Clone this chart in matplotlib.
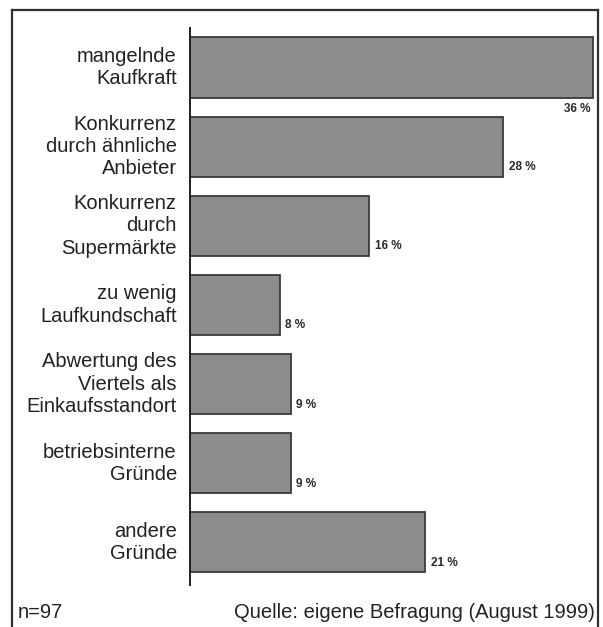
import matplotlib
matplotlib.use('Agg')
import matplotlib.pyplot as plt
from matplotlib.lines import Line2D

plt.rcParams['font.family'] = ['Liberation Sans', 'DejaVu Sans']

# Gründe für Geschäftsaufgaben (Mehrfachnennungen), n=97
gruende = ['mangelnde\nKaufkraft',
           'Konkurrenz\ndurch ähnliche\nAnbieter',
           'Konkurrenz\ndurch\nSupermärkte',
           'zu wenig\nLaufkundschaft',
           'Abwertung des\nViertels als\nEinkaufsstandort',
           'betriebsinterne\nGründe',
           'andere\nGründe']
anteile = [36, 28, 16, 8, 9, 9, 21]

W, H = 603, 627
fig = plt.figure(figsize=(W / 100, H / 100), dpi=100)

# Rahmen um die Grafik (unten abgeschnitten)
rahmen = dict(color='#303030', lw=1.6, transform=fig.transFigure)
fig.add_artist(Line2D([12 / W, 12 / W], [0, 1 - 10 / H], **rahmen))
fig.add_artist(Line2D([12 / W, 598 / W], [1 - 10 / H, 1 - 10 / H], **rahmen))
fig.add_artist(Line2D([598 / W, 598 / W], [0, 1 - 10 / H], **rahmen))

ax = fig.add_axes([190 / W, 42 / H, 410 / W, 557 / H])
y = list(range(len(anteile)))
ax.barh(y, anteile, height=0.76, color='#8c8c8c', edgecolor='#3a3a3a', linewidth=1.3)
ax.set_xlim(0, 36 * 410 / 403)
ax.set_ylim(6.54, -0.5)

for s in ['top', 'right', 'bottom']:
    ax.spines[s].set_visible(False)
ax.spines['left'].set_linewidth(1.4)
ax.spines['left'].set_color('#202020')
ax.set_xticks([])
ax.set_yticks([])

for yi, (name, wert) in enumerate(zip(gruende, anteile)):
    ax.annotate(name, (0, yi), xytext=(-9.5, 0), textcoords='offset points',
                ha='right', va='center', fontsize=14.5, linespacing=1.22,
                color='#222222')
    if wert == max(anteile):
        # längster Balken: Wert unter das Balkenende
        ax.annotate(f'{wert} %', (wert, yi + 0.45), xytext=(-2, 0),
                    textcoords='offset points', ha='right', va='top',
                    fontsize=8.5, fontweight='bold', color='#2a2a2a')
    else:
        ax.annotate(f'{wert} %', (wert, yi + 0.26), xytext=(4, 0),
                    textcoords='offset points', ha='left', va='center',
                    fontsize=8.5, fontweight='bold', color='#2a2a2a')

fig.text(18 / W, 1 - 612 / H, 'n=97', ha='left', va='center', fontsize=14.5, color='#222222')
fig.text(595 / W, 1 - 612 / H, 'Quelle: eigene Befragung (August 1999)',
         ha='right', va='center', fontsize=14.5, color='#222222')

fig.savefig('out.png', dpi=100, facecolor='white')
